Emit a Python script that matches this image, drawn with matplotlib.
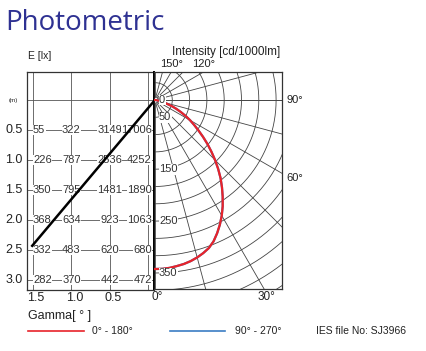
import numpy as np
import matplotlib
matplotlib.use("Agg")
import matplotlib.pyplot as plt
from matplotlib.transforms import blended_transform_factory

plt.rcParams['font.family'] = ['Liberation Sans', 'DejaVu Sans']

# ---------------- data ----------------
distances = [0.5, 1.0, 1.5, 2.0, 2.5, 3.0]          # m
offsets = [1.5, 1.0, 0.5, 0.0]                       # horizontal columns
lux_15 = [55, 226, 350, 368, 332, 282]
lux_10 = [322, 787, 795, 634, 483, 370]
lux_05 = [3149, 2536, 1481, 923, 620, 442]
lux_00 = [17006, 4252, 1890, 1063, 680, 472]
x_tick_labels = ["1.5", "1.0", "0.5"]
y_tick_labels = ["0.5", "1.0", "1.5", "2.0", "2.5", "3.0"]

beam_x = [-0.09, 1.51]   # beam edge line (left panel)
beam_y = [0.0, 2.43]

gamma = [0, 2.5, 5, 7.5, 10, 12.5, 15, 17.5, 20, 22.5, 25, 27.5, 30, 32.5, 35, 37.5,
         40, 42.5, 45, 47.5, 50, 52.5, 55, 57.5, 60, 62.5, 65, 67.5, 70, 72.5, 75,
         77.5, 80, 85, 90]
cd_0_180 = [338, 338, 337, 335, 333, 330, 326, 321, 315, 306, 294, 281, 267, 252, 236, 220,
            204, 187, 170, 153, 137, 121, 106, 93, 81, 69, 57, 46, 36, 25, 16,
            11, 7, 2, 0]
cd_90_270 = [338, 338, 337, 335, 333, 330, 326, 321, 315, 306, 294, 281, 267, 252, 236, 220,
             204, 187, 170, 153, 137, 121, 106, 93, 81, 69, 57, 46, 36, 25, 16,
             11, 7, 2, 0]

radial_labels = ["0", "50", "150", "250", "350"]
radial_label_ring = [0, 1, 4, 7, 10]
angle_labels = [150, 120, 90, 60, 30, 0]

W, H = 427, 351
fig = plt.figure(figsize=(W / 100, H / 100), dpi=100)


def fx(px):
    return px / W


def fy(py):
    return 1 - py / H


grid_c = '#555555'
edge_c = '#333333'

# ---------------- left panel ----------------
axL = fig.add_axes([fx(27), fy(290), fx(154) - fx(27), fy(72) - fy(290)])
axL.set_xlim(1.578, -0.078)
axL.set_ylim(3.167, -0.467)
axL.set_xticks([])
axL.set_yticks([])
for s in axL.spines.values():
    s.set_color(edge_c)
    s.set_linewidth(0.9)
axL.spines['right'].set_color('black')
axL.spines['right'].set_linewidth(1.3)

for v in offsets:
    axL.axvline(v, color=grid_c, lw=0.6, zorder=1)
for d in [0.0] + distances:
    axL.axhline(d, color=grid_c, lw=0.6, zorder=1)

cols = [lux_15, lux_10, lux_05, lux_00]
num_font = ['Liberation Sans Narrow', 'Liberation Sans', 'DejaVu Sans']
for ci, (off, vals) in enumerate(zip(offsets, cols)):
    for d, val in zip(distances, vals):
        if ci == 0:
            x, ha = off, 'left'
        elif ci == 3:
            x, ha = -0.05, 'right'
        else:
            x, ha = off, 'center'
        axL.text(x, d, str(val), ha=ha, va='center', fontsize=8, family=num_font,
                 color='#333333', zorder=3,
                 bbox=dict(facecolor='white', edgecolor='none', pad=0.2))

axL.plot(beam_x, beam_y, color='black', lw=1.8, zorder=4, clip_on=False)

trY = blended_transform_factory(axL.transAxes, axL.transData)
for d, lab in zip(distances, y_tick_labels):
    axL.text(-0.035, d, lab, transform=trY, ha='right', va='center', fontsize=9, color='#222222')
axL.text(-0.07, 0.0, "(m)", transform=trY, ha='right', va='center', fontsize=4.5, color='#222222')

trX = blended_transform_factory(axL.transData, axL.transAxes)
for v, lab in zip(offsets[:3], x_tick_labels):
    axL.text(v - 0.04, -0.035, lab, transform=trX, ha='center', va='center', fontsize=9, color='#222222')

# ---------------- right (polar) panel ----------------
axP = fig.add_axes([fx(154), fy(289), fx(282) - fx(154), fy(72) - fy(289)])
axP.set_xlim(-2, 254)
axP.set_ylim(-378, 56)
axP.set_xticks([])
axP.set_yticks([])
for s in axP.spines.values():
    s.set_color(edge_c)
    s.set_linewidth(0.9)
axP.spines['left'].set_color('black')
axP.spines['left'].set_linewidth(1.3)

ring = 34.6
g = np.radians(np.linspace(0, 180, 361))
for k in range(1, 15):
    r = k * ring
    axP.plot(r * np.sin(g), -r * np.cos(g), color='#444444', lw=0.6, zorder=1)
for a in range(0, 181, 15):
    ar = np.radians(a)
    r0 = 6
    axP.plot([r0 * np.sin(ar), 600 * np.sin(ar)], [-r0 * np.cos(ar), -600 * np.cos(ar)],
             color='#444444', lw=0.6, zorder=1)
axP.axhline(0, color='#444444', lw=0.6, zorder=1)

ga = np.radians(gamma)
c90 = np.array(cd_90_270)
c0 = np.array(cd_0_180)
axP.plot(c90 * np.sin(ga), -c90 * np.cos(ga), color='#3b7dc4', lw=1.6, zorder=3)
axP.plot(c0 * np.sin(ga), -c0 * np.cos(ga), color='#e8232a', lw=1.6, zorder=4,
         solid_joinstyle='round')

for lab, k in zip(radial_labels, radial_label_ring):
    axP.text(8, -k * ring, lab, ha='left', va='center', fontsize=8, color='#333333',
             bbox=dict(facecolor='white', edgecolor='none', pad=0.3), zorder=5)

# angle labels
for a in angle_labels:
    ar = np.radians(a)
    dx, dy = np.sin(ar), -np.cos(ar)
    if a > 90:
        t = 56 / dy
        axP.text(t * dx, 62, f"{a}°", ha='center', va='bottom', fontsize=8, color='#222222', clip_on=False)
    elif a == 90:
        axP.text(280, 0, "90°", ha='center', va='center', fontsize=8, color='#222222', clip_on=False)
    elif a == 60:
        t = 256 / dx
        axP.text(280, t * dy - 8, "60°", ha='center', va='center', fontsize=8, color='#222222', clip_on=False)
    else:
        t = -378 / dy
        axP.text(t * dx + 4, -394, f"{a}°", ha='center', va='center', fontsize=8.5,
                 color='#222222', clip_on=False)

# ---------------- titles / legend ----------------
fig.text(fx(5), fy(23), "Photometric", fontsize=20, color='#2e3192', family=['Open Sans', 'DejaVu Sans'],
         ha='left', va='center')
fig.text(fx(28), fy(56), "E [lx]", fontsize=7.5, color='#222222', ha='left', va='center')
fig.text(fx(226), fy(52), "Intensity [cd/1000lm]", fontsize=8.5, color='#222222', ha='center', va='center')
fig.text(fx(28), fy(316), "Gamma[ ° ]", fontsize=9, color='#222222', ha='left', va='center')

legend_y = fy(331)
fig.add_artist(plt.Line2D([fx(28), fx(84)], [legend_y, legend_y], color='#e8232a', lw=1.2))
fig.text(fx(92), legend_y, "0° - 180°", fontsize=7.5, color='#222222', ha='left', va='center')
fig.add_artist(plt.Line2D([fx(170), fx(225)], [legend_y, legend_y], color='#3b7dc4', lw=1.2))
fig.text(fx(235), legend_y, "90° - 270°", fontsize=7.5, color='#222222', ha='left', va='center')
fig.text(fx(316), legend_y, "IES file No: SJ3966", fontsize=7.5, color='#222222', ha='left', va='center')

fig.savefig("out.png", dpi=100)
